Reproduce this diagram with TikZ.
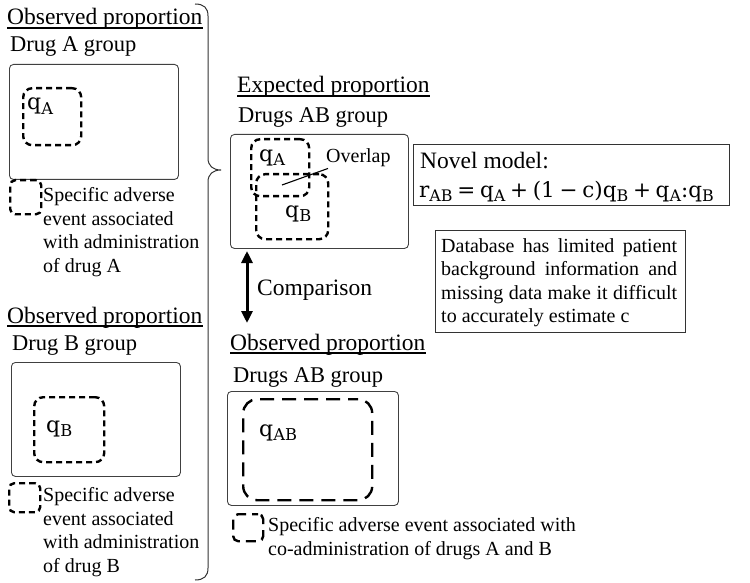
\documentclass[tikz,border=0pt]{standalone}
\usepackage{fontspec}
\setmainfont{Liberation Serif}
\newfontfamily\qfont{DejaVu Serif}
\usetikzlibrary{arrows.meta}
\newcommand\sbx[1]{\raisebox{-0.22em}{\scalebox{0.74}{#1}}}
\newcommand\opx[1]{\hspace{0.22em}#1\hspace{0.22em}}
\begin{document}
\begin{tikzpicture}[x=1pt,y=-1pt,
  frame/.style={draw=black!75, line width=0.9pt, rounded corners=4pt, inner sep=0pt, anchor=north west},
  sqframe/.style={draw=black!80, line width=0.9pt, inner sep=0pt, anchor=north west},
  evt/.style={draw, line width=2.4pt, dash pattern=on 6pt off 4pt, rounded corners=9pt, inner sep=0pt, anchor=north west},
  evtlong/.style={draw, line width=2.4pt, dash pattern=on 14pt off 8pt, dash phase=4pt, rounded corners=14pt, inner sep=0pt, anchor=north west},
  head/.style={font=\fontsize{23.5}{28}\selectfont, inner sep=0pt, anchor=base west},
  grp/.style={font=\fontsize{22.5}{27}\selectfont, inner sep=0pt, anchor=base west},
  lbl/.style={font=\fontsize{20}{23.5}\selectfont, inner sep=0pt, anchor=base west, align=left},
  ql/.style={font=\qfont\fontsize{22}{26}\selectfont, inner sep=0pt, anchor=base west},
  uline/.style={line width=1.1pt}
]
\useasboundingbox (0,0) rectangle (750,583);

% ---------- left column: drug A ----------
\node[head] (h1) at (7,25) {Observed proportion};
\draw[uline] ([yshift=-3pt]h1.base west) -- ([yshift=-3pt]h1.base east);
\node[grp] (gA) at (10,52) {Drug A group};
\node[frame, minimum width=169pt, minimum height=115pt] (boxA) at (9,64) {};
\node[evt, minimum width=58pt, minimum height=57pt] (evA) at (22,87) {};
\node[ql] (qA) at (27,110) {q\sbx{A}};
\node[evt, rounded corners=5pt, minimum width=31pt, minimum height=34pt] (legAsq) at (9,179) {};
\node[lbl] (legA) at (43,272) {Specific adverse\\event associated\\with administration\\of drug A};

% ---------- left column: drug B ----------
\node[head] (h2) at (7,323) {Observed proportion};
\draw[uline] ([yshift=-3pt]h2.base west) -- ([yshift=-3pt]h2.base east);
\node[grp] (gB) at (12,350) {Drug B group};
\node[frame, minimum width=169pt, minimum height=114pt] (boxB) at (11,362) {};
\node[evt, minimum width=70pt, minimum height=65pt] (evB) at (33,396) {};
\node[ql] (qB) at (46,432) {q\sbx{B}};
\node[evt, rounded corners=5pt, minimum width=31pt, minimum height=29pt] (legBsq) at (8,482) {};
\node[lbl] (legB) at (43,572) {Specific adverse\\event associated\\with administration\\of drug B};

% ---------- brace ----------
\draw[line width=1pt, black!80] (195,4) .. controls (204,4) and (208,8) .. (208,16)
  -- (208,158) .. controls (208,166) and (213,170) .. (221,170)
  .. controls (213,170) and (208,174) .. (208,182)
  -- (208,568) .. controls (208,576) and (204,580) .. (195,580);

% ---------- expected proportion ----------
\node[head] (h3) at (237,93) {Expected proportion};
\draw[uline] ([yshift=-3pt]h3.base west) -- ([yshift=-3pt]h3.base east);
\node[grp] (gE) at (238,123) {Drugs AB group};
\node[frame, minimum width=178pt, minimum height=114pt] (boxE) at (230,134) {};
\node[evt, minimum width=58pt, minimum height=57pt] (evA2) at (250,138) {};
\node[evt, minimum width=72pt, minimum height=65pt] (evB2) at (255,173) {};
\node[ql] (qA2) at (259,161) {q\sbx{A}};
\node[ql] (qB2) at (285,217) {q\sbx{B}};
\node[lbl] (ovl) at (326,163) {Overlap};
\coordinate (ovlpt) at (282,185);
\draw[line width=1.1pt] (ovl.south west) ++(2pt,-1pt) -- (ovlpt);

% ---------- novel model ----------
\node[sqframe, minimum width=316pt, minimum height=61pt] (novel) at (413,144) {};
\node[head] (nm) at (420,168) {Novel model:};
\node[ql, font=\qfont\fontsize{21.5}{26}\selectfont] (formula) at (419,197)
  {r\sbx{AB}\opx{=}q\sbx{A}\opx{+}(1\opx{−}c)q\sbx{B}\opx{+}q\sbx{A}:q\sbx{B}};

% ---------- database note ----------
\node[sqframe, minimum width=250pt, minimum height=102pt] (db) at (435,230) {};
\node[lbl, anchor=north west, text width=236pt, align=justify] (dbtext) at (441,238)
  {Database has limited patient\linebreak background information and\linebreak missing data make it difficult\linebreak to accurately estimate c};

% ---------- comparison ----------
\coordinate (cmpTop) at (247,251);
\coordinate (cmpBot) at (247,323);
\draw[line width=3pt, {Triangle[width=11pt,length=12pt]}-{Triangle[width=11pt,length=12pt]}] (cmpTop) -- (cmpBot);
\node[head] (cmp) at (257,295) {Comparison};

% ---------- observed AB ----------
\node[head] (h4) at (230,350) {Observed proportion};
\draw[uline] ([yshift=-3pt]h4.base west) -- ([yshift=-3pt]h4.base east);
\node[grp] (gO) at (233,382) {Drugs AB group};
\node[frame, minimum width=171pt, minimum height=114pt] (boxO) at (227,391) {};
\node[evtlong, minimum width=129pt, minimum height=101pt] (evAB) at (242,398) {};
\node[ql] (qAB) at (259,436) {q\sbx{AB}};
\node[evtlong, dash pattern=on 10pt off 6pt, rounded corners=5pt, minimum width=30pt, minimum height=27pt] (legABsq) at (232,513) {};
\node[lbl] (legAB) at (268,555) {Specific adverse event associated with\\co-administration of drugs A and B};
\end{tikzpicture}
\end{document}
